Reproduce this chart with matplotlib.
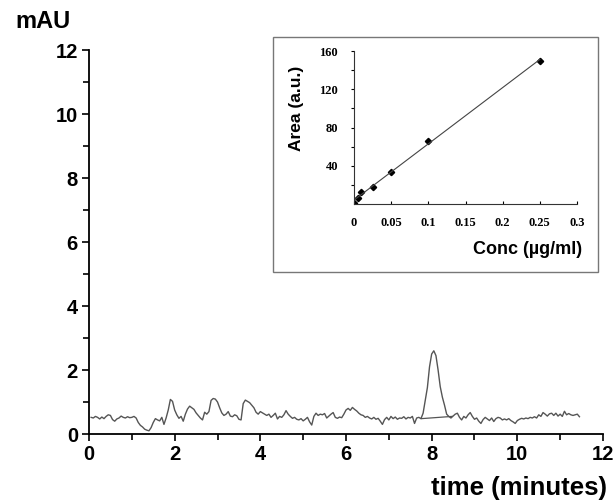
import numpy as np
import matplotlib
matplotlib.use("Agg")
import matplotlib.pyplot as plt
from matplotlib.patches import Rectangle
from matplotlib.ticker import MultipleLocator, FixedLocator

# ---------------- data ----------------
time_min = [0.05, 0.10, 0.15, 0.20, 0.25, 0.30, 0.35, 0.40, 0.45, 0.50,
            0.55, 0.60, 0.65, 0.70, 0.75, 0.80, 0.85, 0.90, 0.95, 1.00,
            1.05, 1.10, 1.15, 1.20, 1.25, 1.30, 1.35, 1.40, 1.45, 1.50,
            1.55, 1.60, 1.65, 1.70, 1.75, 1.80, 1.85, 1.90, 1.95, 2.00,
            2.05, 2.10, 2.15, 2.20, 2.25, 2.30, 2.35, 2.40, 2.45, 2.50,
            2.55, 2.60, 2.65, 2.70, 2.75, 2.80, 2.85, 2.90, 2.95, 3.00,
            3.05, 3.10, 3.15, 3.20, 3.25, 3.30, 3.35, 3.40, 3.45, 3.50,
            3.55, 3.60, 3.65, 3.70, 3.75, 3.80, 3.85, 3.90, 3.95, 4.00,
            4.05, 4.10, 4.15, 4.20, 4.25, 4.30, 4.35, 4.40, 4.45, 4.50,
            4.55, 4.60, 4.65, 4.70, 4.75, 4.80, 4.85, 4.90, 4.95, 5.00,
            5.05, 5.10, 5.15, 5.20, 5.25, 5.30, 5.35, 5.40, 5.45, 5.50,
            5.55, 5.60, 5.65, 5.70, 5.75, 5.80, 5.85, 5.90, 5.95, 6.00,
            6.05, 6.10, 6.15, 6.20, 6.25, 6.30, 6.35, 6.40, 6.45, 6.50,
            6.55, 6.60, 6.65, 6.70, 6.75, 6.80, 6.85, 6.90, 6.95, 7.00,
            7.05, 7.10, 7.15, 7.20, 7.25, 7.30, 7.35, 7.40, 7.45, 7.50,
            7.55, 7.60, 7.65, 7.70, 7.75, 7.80, 7.85, 7.90, 7.95, 8.00,
            8.05, 8.10, 8.15, 8.20, 8.25, 8.30, 8.35, 8.40, 8.45, 8.50,
            8.55, 8.60, 8.65, 8.70, 8.75, 8.80, 8.85, 8.90, 8.95, 9.00,
            9.05, 9.10, 9.15, 9.20, 9.25, 9.30, 9.35, 9.40, 9.45, 9.50,
            9.55, 9.60, 9.65, 9.70, 9.75, 9.80, 9.85, 9.90, 9.95, 10.00,
            10.05, 10.10, 10.15, 10.20, 10.25, 10.30, 10.35, 10.40, 10.45, 10.50,
            10.55, 10.60, 10.65, 10.70, 10.75, 10.80, 10.85, 10.90, 10.95, 11.00,
            11.05, 11.10, 11.15, 11.20, 11.25, 11.30, 11.35, 11.40, 11.45]
absorbance = [0.52, 0.50, 0.55, 0.52, 0.47, 0.53, 0.48, 0.55, 0.60, 0.58,
              0.45, 0.40, 0.47, 0.50, 0.56, 0.52, 0.50, 0.54, 0.51, 0.52,
              0.55, 0.50, 0.36, 0.27, 0.22, 0.15, 0.12, 0.10, 0.20, 0.36,
              0.48, 0.44, 0.41, 0.52, 0.30, 0.50, 0.75, 1.08, 1.02, 0.75,
              0.60, 0.49, 0.55, 0.40, 0.62, 0.78, 0.87, 0.82, 0.77, 0.66,
              0.58, 0.50, 0.44, 0.68, 0.62, 0.70, 1.05, 1.11, 1.09, 1.00,
              0.82, 0.66, 0.58, 0.62, 0.70, 0.56, 0.54, 0.60, 0.57, 0.46,
              0.44, 0.95, 1.06, 1.02, 0.98, 0.90, 0.82, 0.68, 0.62, 0.70,
              0.66, 0.62, 0.58, 0.62, 0.52, 0.58, 0.65, 0.47, 0.55, 0.52,
              0.60, 0.73, 0.62, 0.55, 0.49, 0.52, 0.46, 0.44, 0.48, 0.41,
              0.46, 0.52, 0.38, 0.28, 0.55, 0.65, 0.58, 0.62, 0.60, 0.64,
              0.50, 0.56, 0.62, 0.67, 0.52, 0.49, 0.53, 0.51, 0.62, 0.75,
              0.80, 0.74, 0.83, 0.77, 0.72, 0.65, 0.60, 0.58, 0.52, 0.55,
              0.50, 0.47, 0.52, 0.46, 0.49, 0.40, 0.30, 0.45, 0.52, 0.44,
              0.55, 0.48, 0.53, 0.46, 0.50, 0.49, 0.54, 0.47, 0.52, 0.50,
              0.55, 0.33, 0.50, 0.52, 0.48, 0.65, 1.05, 1.45, 2.10, 2.50,
              2.60, 2.45, 2.00, 1.48, 1.15, 0.90, 0.62, 0.55, 0.50, 0.56,
              0.62, 0.65, 0.52, 0.44, 0.55, 0.50, 0.60, 0.67, 0.55, 0.46,
              0.50, 0.40, 0.33, 0.45, 0.52, 0.47, 0.42, 0.50, 0.39, 0.48,
              0.52, 0.50, 0.44, 0.47, 0.44, 0.48, 0.42, 0.38, 0.33, 0.42,
              0.46, 0.49, 0.47, 0.50, 0.48, 0.52, 0.50, 0.54, 0.50, 0.60,
              0.55, 0.67, 0.62, 0.56, 0.63, 0.65, 0.58, 0.65, 0.56, 0.62,
              0.55, 0.71, 0.60, 0.64, 0.60, 0.58, 0.60, 0.62, 0.54]
peak_baseline_t = [7.76, 8.48]
peak_baseline_v = [0.48, 0.55]

x_ticks = [0, 2, 4, 6, 8, 10, 12]
y_ticks = [0, 2, 4, 6, 8, 10, 12]

conc = [0, 0.005, 0.01, 0.025, 0.05, 0.1, 0.25]
area = [1, 6.5, 13, 18, 33, 66, 150]
inset_x_ticks = [0, 0.05, 0.1, 0.15, 0.2, 0.25, 0.3]
inset_x_labels = ["0", "0.05", "0.1", "0.15", "0.2", "0.25", "0.3"]
inset_y_ticks = [20, 40, 60, 80, 100, 120, 140, 160]
inset_y_labels = ["", "40", "", "80", "", "120", "", "160"]

# ---------------- figure ----------------
W, H = 615, 501
fig = plt.figure(figsize=(W / 100, H / 100), dpi=100)
sans = "Liberation Sans"
serif = "Liberation Serif"

def fx(px):
    return px / W

def fy(py):
    return 1 - py / H

ax = fig.add_axes([fx(89), fy(434), fx(603) - fx(89), fy(50) - fy(434)])
ax.plot(time_min, absorbance, color="#555555", lw=1.0)
ax.plot(peak_baseline_t, peak_baseline_v, color="#555555", lw=0.9)
ax.set_xlim(0, 12)
ax.set_ylim(0, 12)
ax.set_xticks(x_ticks)
ax.set_yticks(y_ticks)
ax.xaxis.set_minor_locator(MultipleLocator(1))
ax.yaxis.set_minor_locator(MultipleLocator(1))
for s in ["top", "right"]:
    ax.spines[s].set_visible(False)
for s in ["left", "bottom"]:
    ax.spines[s].set_linewidth(1.3)
ax.tick_params(which="both", direction="out", width=1.2, color="black")
ax.tick_params(which="major", length=5, pad=3)
ax.tick_params(which="minor", length=4)
for lab in ax.get_xticklabels() + ax.get_yticklabels():
    lab.set_fontfamily(sans)
    lab.set_fontweight("bold")
    lab.set_fontsize(14.5)

fig.text(fx(43), fy(22), "mAU", fontfamily=sans, fontweight="bold",
         fontsize=17, ha="center", va="center")
fig.text(fx(607), fy(488), "time (minutes)", fontfamily=sans,
         fontweight="bold", fontsize=18.5, ha="right", va="center")

# inset frame
fig.patches.append(Rectangle((fx(273), fy(272)), fx(598) - fx(273),
                             fy(37) - fy(272), transform=fig.transFigure,
                             fill=False, edgecolor="#777777", lw=1.0))

iax = fig.add_axes([fx(354), fy(204), fx(577) - fx(354), fy(51) - fy(204)])
iax.plot(conc, area, linestyle="none", marker="D", markersize=3.2,
         color="black")
coef = np.polyfit(conc, area, 1)
fit_x = np.array([conc[0], conc[-1]])
iax.plot(fit_x, np.polyval(coef, fit_x), color="#444444", lw=0.8)
iax.set_xlim(0, 0.3)
iax.set_ylim(0, 160)
iax.xaxis.set_major_locator(FixedLocator(inset_x_ticks))
iax.set_xticklabels(inset_x_labels)
iax.yaxis.set_major_locator(FixedLocator(inset_y_ticks))
iax.set_yticklabels(inset_y_labels)
for s in ["top", "right"]:
    iax.spines[s].set_visible(False)
for s in ["left", "bottom"]:
    iax.spines[s].set_linewidth(0.8)
    iax.spines[s].set_color("#333333")
iax.tick_params(axis="x", direction="in", length=2.5, width=0.8, pad=9)
iax.tick_params(axis="y", direction="out", length=2.5, width=0.8, pad=9)
for lab in iax.get_xticklabels() + iax.get_yticklabels():
    lab.set_fontfamily(serif)
    lab.set_fontweight("bold")
    lab.set_fontsize(9)

fig.text(fx(297), fy(108), "Area (a.u.)", fontfamily=sans, fontweight="bold",
         fontsize=12.5, rotation=90, ha="center", va="center")
fig.text(fx(582), fy(250), "Conc (\u00b5g/ml)", fontfamily=sans,
         fontweight="bold", fontsize=13, ha="right", va="center")

fig.savefig("out.png", dpi=100)
